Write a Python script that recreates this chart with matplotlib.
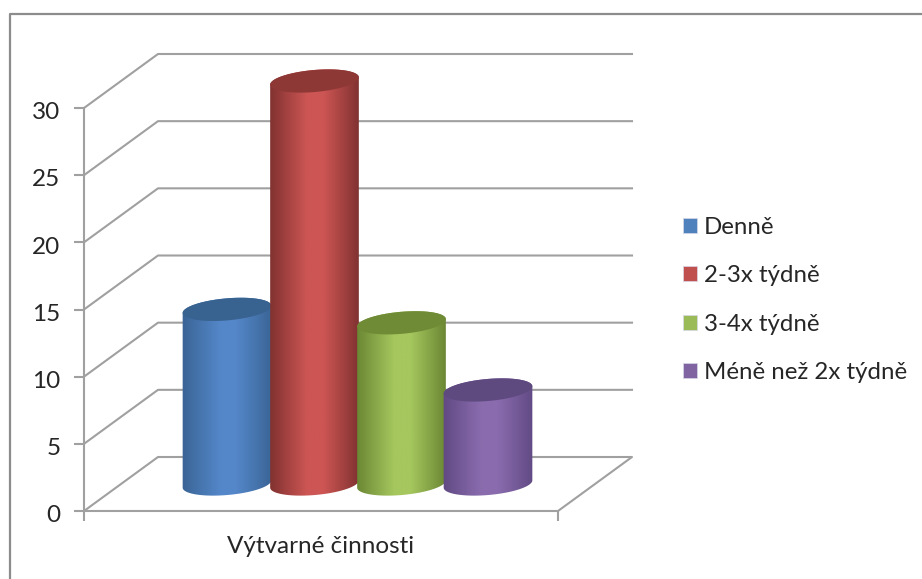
import numpy as np
import matplotlib.pyplot as plt
from matplotlib.colors import LinearSegmentedColormap
from matplotlib.lines import Line2D
from matplotlib.patches import Patch, Polygon
from matplotlib.transforms import ScaledTranslation

plt.rcParams["font.family"] = ["Lato", "DejaVu Sans"]

categories = ["Výtvarné činnosti"]
series = ["Denně", "2-3x týdně", "3-4x týdně", "Méně než 2x týdně"]
values = [13, 30, 12, 7]
yticks = [0, 5, 10, 15, 20, 25, 30]

legend_colors = ["#4f81bd", "#c0504d", "#9bbb59", "#8064a2"]
edge_colors = ["#3a6495", "#7f3130", "#6a8633", "#614a84"]
mid_colors = ["#5487c9", "#cd5654", "#a5c75e", "#8a6cae"]
top_colors = ["#38628f", "#8e3836", "#6f8b36", "#5f4a80"]

W, H = 922, 579
GRID = "#a0a0a0"
TEXT = "#262626"

fig = plt.figure(figsize=(W / 100, H / 100), dpi=100)

# outer chart frame
fig.add_artist(Line2D([10 / W, 10 / W, 1], [0, 1 - 14 / H, 1 - 14 / H], color="#8c8c8c", lw=1.6))

# front plane of the fake 3d box
left, right, bottom, top = 84, 558, 511, 108
ax = fig.add_axes([left / W, 1 - bottom / H, (right - left) / W, (bottom - top) / H])
ax.set_xlim(0, 1)
ax.set_ylim(0, 30)
px = 1 / (right - left)
py = 30 / (bottom - top)

depth_x = 74 * px
depth_y = 54 * py

for s in ["top", "right"]:
    ax.spines[s].set_visible(False)
for s in ["left", "bottom"]:
    ax.spines[s].set_color(GRID)
    ax.spines[s].set_linewidth(1.5)

ax.set_yticks(yticks)
ax.tick_params(axis="y", length=7, width=1.5, color=GRID, labelsize=17.5, labelcolor=TEXT, pad=10)
ax.set_xticks([0.5], categories)
ax.set_xticks([0, 1], minor=True)
ax.tick_params(axis="x", which="major", length=0, labelsize=17.5, labelcolor=TEXT, pad=18)
ax.tick_params(axis="x", which="minor", length=7, width=1.5, color=GRID)

# digits sit a bit high in Lato
nudge = ScaledTranslation(0, -2 / 72, fig.dpi_scale_trans)
for lab in ax.get_yticklabels():
    lab.set_transform(lab.get_transform() + nudge)

# gridlines: side wall and back wall
for v in yticks:
    ax.plot([0, depth_x, 1 + depth_x] if v else [0, depth_x, 1 + depth_x, 1],
            [v, v + depth_y, v + depth_y] if v else [0, depth_y, depth_y, 0],
            color=GRID, lw=1.5, clip_on=False, zorder=1)


def ellipse(cx, cy, a, b, t):
    rot = np.radians(5)
    ex = a * np.cos(t)
    ey = b * np.sin(t)
    return cx + (ex * np.cos(rot) - ey * np.sin(rot)) * px, cy + (ex * np.sin(rot) + ey * np.cos(rot)) * py


a, b = 44.5, 11
centers = [(227 - left) * px, (314.5 - left) * px, (401.5 - left) * px, (488 - left) * px]
base = 27 * py

for i, v in enumerate(values):
    cx = centers[i]
    low = ellipse(cx, base, a, b, np.linspace(np.pi, 2 * np.pi, 60))
    high = ellipse(cx, base + v, a, b, np.linspace(0, np.pi, 60))
    body = Polygon(np.column_stack([np.r_[low[0], high[0]], np.r_[low[1], high[1]]]),
                   closed=True, transform=ax.transData, fc="none", ec="none")
    ax.add_patch(body)

    cmap = LinearSegmentedColormap.from_list(
        "c", [(0, edge_colors[i]), (0.42, mid_colors[i]), (0.6, mid_colors[i]), (1, edge_colors[i])])
    im = ax.imshow(np.linspace(0, 1, 128).reshape(1, -1), cmap=cmap, aspect="auto",
                   extent=[cx - a * px * 1.02, cx + a * px * 1.02, 0, base + v + 2 * b * py],
                   zorder=3 + i, interpolation="bilinear")
    # red column rises above the front plane, so clip to the figure
    im.set_clip_box(fig.bbox)
    im.set_clip_path(body)

    cap = ellipse(cx, base + v, a, b, np.linspace(0, 2 * np.pi, 120))
    ax.add_patch(Polygon(np.column_stack(cap), closed=True, fc=top_colors[i], ec="none",
                         zorder=3 + i, clip_on=False))

ax.set_xlim(0, 1)
ax.set_ylim(0, 30)

handles = [Patch(fc=c, ec="#d8d8e8", lw=0.5) for c in legend_colors]
fig.legend(handles, series, loc="center left", bbox_to_anchor=(683 / W, 1 - 300 / H), frameon=False,
           fontsize=17.3, labelcolor=TEXT, labelspacing=1.14, handlelength=0.6, handleheight=0.6,
           handletextpad=0.28, borderpad=0, borderaxespad=0)

fig.savefig("out.png", dpi=100)
